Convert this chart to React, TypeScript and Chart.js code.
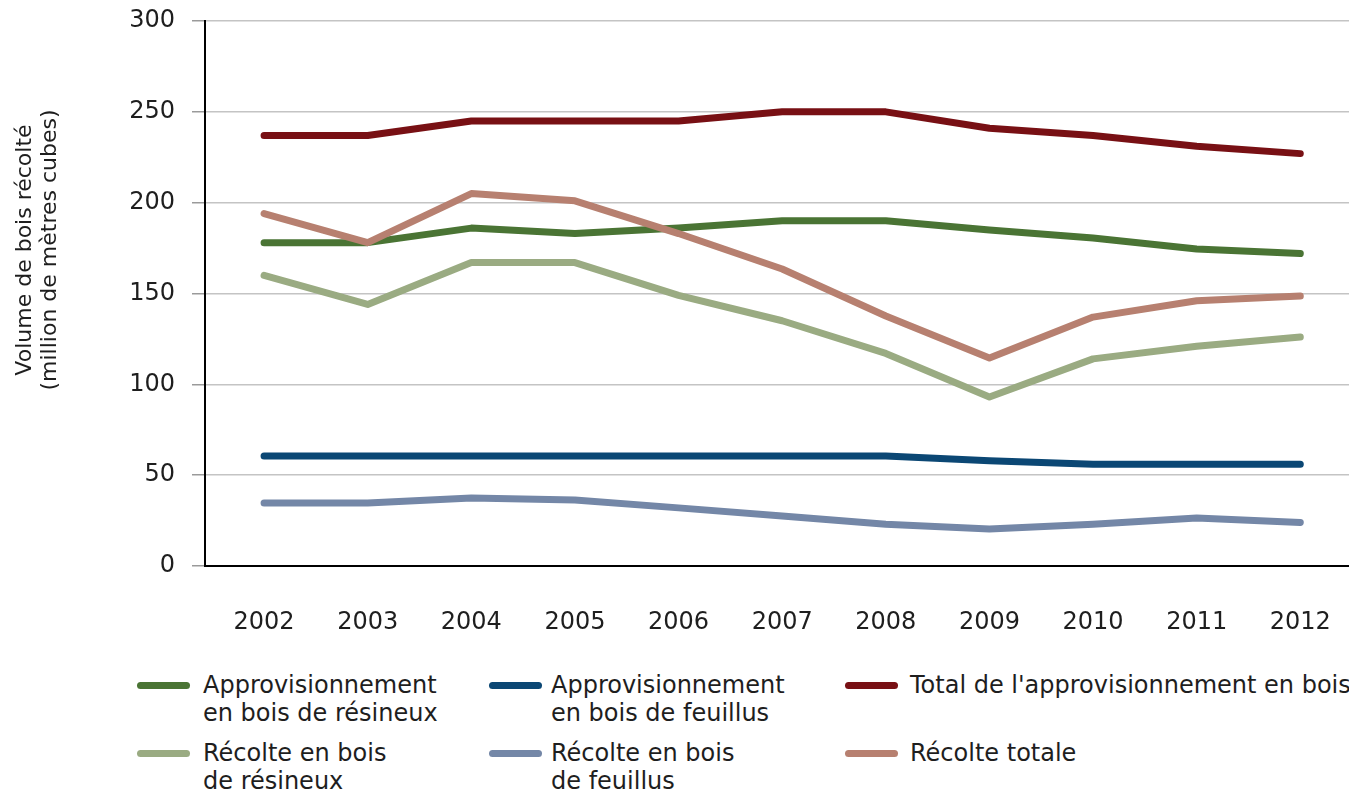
import React, { useEffect, useRef } from "react";
import { Chart, registerables } from "chart.js";

Chart.register(...registerables);

const years = [2002, 2003, 2004, 2005, 2006, 2007, 2008, 2009, 2010, 2011, 2012];
const yTicks = [0, 50, 100, 150, 200, 250, 300];

const approvResineux = [178, 178, 186, 183, 186, 190, 190, 185, 180.5, 174.5, 172];
const approvFeuillus = [60.5, 60.5, 60.5, 60.5, 60.5, 60.5, 60.5, 58, 56, 56, 56];
const totalApprov = [237, 237, 245, 245, 245, 250, 250, 241, 237, 231, 227];
const recolteResineux = [160, 144, 167, 167, 149, 135, 117, 93, 114, 121, 126];
const recolteFeuillus = [34.7, 34.7, 37.4, 36.3, 32, 27.5, 23, 20.4, 23, 26.4, 24];
const recolteTotale = [194, 178, 205, 201, 183, 163.5, 137.6, 114.5, 137, 146, 148.6];

const seriesNames = [
  ["Approvisionnement", "en bois de résineux"],
  ["Approvisionnement", "en bois de feuillus"],
  ["Total de l'approvisionnement en bois"],
  ["Récolte en bois", "de résineux"],
  ["Récolte en bois", "de feuillus"],
  ["Récolte totale"],
];
const seriesColors = ["#4a7434", "#0b4774", "#781014", "#9aab82", "#7487a7", "#b78070"];
const seriesValues = [approvResineux, approvFeuillus, totalApprov, recolteResineux, recolteFeuillus, recolteTotale];
const seriesOrder = [2, 3, 4, 5, 6, 1];

const yTitle = ["Volume de bois récolté", "(million de mètres cubes)"];

const FONT = "'DejaVu Sans', sans-serif";
const TEXT = "#1e1e1e";

const legendPos = [
  { mx: 137, tx: 203, cy: 685 },
  { mx: 489, tx: 551, cy: 685 },
  { mx: 845, tx: 910, cy: 685 },
  { mx: 137, tx: 203, cy: 753 },
  { mx: 489, tx: 551, cy: 753 },
  { mx: 845, tx: 910, cy: 753 },
];

export default function App() {
  const ref = useRef<HTMLCanvasElement | null>(null);

  useEffect(() => {
    if (!ref.current) return;
    const chart = new Chart(ref.current, {
      type: "line",
      data: {
        datasets: seriesValues.map((vals, i) => ({
          label: seriesNames[i].join(" "),
          data: years.map((yr, j) => ({ x: yr, y: vals[j] })),
          borderColor: seriesColors[i],
          backgroundColor: seriesColors[i],
          borderWidth: 7,
          pointRadius: 0,
          pointHoverRadius: 0,
          borderCapStyle: "round",
          borderJoinStyle: "round",
          tension: 0,
          fill: false,
          order: seriesOrder[i],
        })),
      },
      options: {
        responsive: false,
        animation: false,
        layout: { padding: { top: 21, right: 0, left: 0, bottom: 0 } },
        plugins: {
          legend: { display: false },
          tooltip: { enabled: false },
          title: { display: false },
        },
        scales: {
          x: {
            type: "linear",
            min: 2001.43,
            max: 2012.47,
            afterBuildTicks: (scale: any) => {
              scale.ticks = years.map((v) => ({ value: v }));
            },
            afterFit: (scale: any) => {
              scale.height = 84;
              scale.paddingLeft = 0;
              scale.paddingRight = 0;
            },
            grid: { display: false, drawTicks: false },
            border: { display: true, color: "#000", width: 2 },
            ticks: {
              color: TEXT,
              font: { family: FONT, size: 24 },
              padding: 42,
              maxRotation: 0,
              autoSkip: false,
              callback: (v: any) => String(v),
            },
          },
          y: {
            min: 0,
            max: 300,
            afterBuildTicks: (scale: any) => {
              scale.ticks = yTicks.map((v) => ({ value: v }));
            },
            afterFit: (scale: any) => {
              scale.width = 205;
              scale.paddingTop = 0;
              scale.paddingBottom = 0;
            },
            grid: {
              color: "#c4c4c4",
              lineWidth: 1.5,
              tickLength: 13,
              tickColor: "#9a9a9a",
              drawTicks: true,
            },
            border: { display: true, color: "#000", width: 2 },
            ticks: {
              color: TEXT,
              font: { family: FONT, size: 24 },
              padding: 17,
            },
          },
        },
      },
    } as any);
    return () => chart.destroy();
  }, []);

  return (
    <div style={{ position: "absolute", left: 0, top: 0, width: 1349, height: 793, background: "#fff", fontFamily: FONT, color: TEXT }}>
      <canvas ref={ref} width={1349} height={650} style={{ position: "absolute", left: 0, top: 0, width: 1349, height: 650 }} />
      {yTitle.map((t, i) => (
        <div
          key={i}
          style={{
            position: "absolute",
            left: 24 + i * 25 - 200,
            top: 250 - 14,
            width: 400,
            height: 28,
            lineHeight: "28px",
            fontSize: 22,
            textAlign: "center",
            whiteSpace: "nowrap",
            transform: "rotate(-90deg)",
            transformOrigin: "50% 50%",
          }}
        >
          {t}
        </div>
      ))}
      {seriesNames.map((lines, i) => {
        const p = legendPos[i];
        return (
          <React.Fragment key={i}>
            <div
              style={{
                position: "absolute",
                left: p.mx,
                top: p.cy - 3.5,
                width: 53,
                height: 7,
                borderRadius: 4,
                background: seriesColors[i],
              }}
            />
            <div
              style={{
                position: "absolute",
                left: p.tx,
                top: p.cy - 14,
                fontSize: 24,
                lineHeight: "28px",
                whiteSpace: "nowrap",
              }}
            >
              {lines.map((l, k) => (
                <div key={k}>{l}</div>
              ))}
            </div>
          </React.Fragment>
        );
      })}
    </div>
  );
}
